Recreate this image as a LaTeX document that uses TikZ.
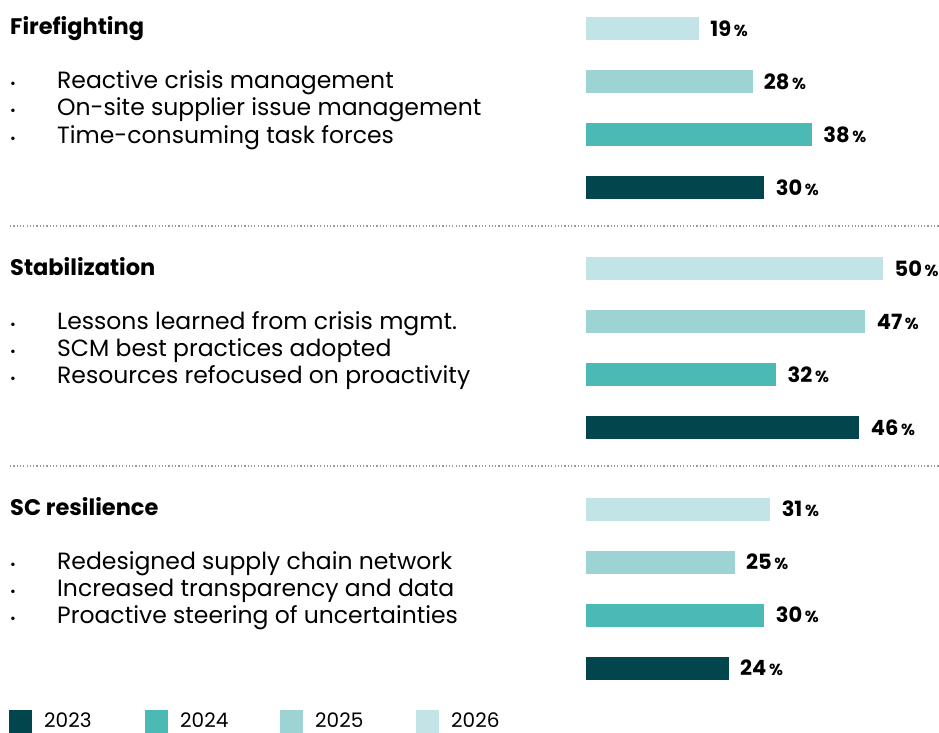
\documentclass[tikz,border=0pt]{standalone}
\usepackage{fontspec}
\setmainfont{Poppins}
\usetikzlibrary{positioning}

\definecolor{c2023}{HTML}{03454D}
\definecolor{c2024}{HTML}{4BBAB5}
\definecolor{c2025}{HTML}{9DD4D3}
\definecolor{c2026}{HTML}{C3E4E6}
\definecolor{dotgray}{HTML}{9A9A9A}

\begin{document}
\begin{tikzpicture}[x=1pt,y=-1pt,
                    bar/.style={inner sep=0pt,minimum height=23pt,anchor=west},
                    value/.style={font=\fontsize{21}{21}\selectfont\bfseries,inner sep=0pt},
                    title/.style={font=\fontsize{22.5}{22.5}\selectfont\bfseries,inner sep=0pt,anchor=base west},
                    item/.style={font=\fontsize{23.5}{27}\selectfont,inner sep=0pt,anchor=base west},
                    dot/.style={font=\fontsize{14}{14}\selectfont,inner sep=0pt,anchor=base west},
                    legend box/.style={inner sep=0pt,minimum size=23pt,anchor=north west},
                    sep line/.style={dotgray,line width=1.2pt,dash pattern=on 1.2pt off 2.1pt}]

  \useasboundingbox (0,0) rectangle (939,733);

  % one block per phase: title, bullets, four bars
  \foreach \g/\ttl/\va/\vb/\vc/\vd/\ia/\ib/\ic in {
      1/Firefighting/19/28/38/30/{Reactive crisis management}/{On-site supplier issue management}/{Time-consuming task forces},
      2/Stabilization/50/47/32/46/{Lessons learned from crisis mgmt.}/{SCM best practices adopted}/{Resources refocused on proactivity},
      3/SC resilience/31/25/30/24/{Redesigned supply chain network}/{Increased transparency and data}/{Proactive steering of uncertainties}} {
    \pgfmathsetmacro\gy{240.3*(\g-1)}

    \node[title] (title\g) at (10,\gy+35) {\ttl};

    \foreach \j/\txt in {0/\ia,1/\ib,2/\ic} {
      \node[dot]  (dot\g-\j)  at (10,\gy+89+27*\j) {•};
      \node[item] (item\g-\j) at (57,\gy+89+27*\j) {\txt};
    }

    \foreach \k/\yr/\val in {0/2026/\va,1/2025/\vb,2/2024/\vc,3/2023/\vd} {
      \node[bar,fill=c\yr,minimum width=\val*5.94pt] (bar\g-\yr) at (586,\gy+28.5+53*\k) {};
      \node[value,right=11pt of bar\g-\yr] (val\g-\yr) {\val{\fontsize{16}{16}\selectfont\,\%}};
    }
  }

  % dotted separators
  \coordinate (sepL1) at (10,226);
  \coordinate (sepR1) at (939,226);
  \coordinate (sepL2) at (10,466);
  \coordinate (sepR2) at (939,466);
  \draw[sep line] (sepL1) -- (sepR1);
  \draw[sep line] (sepL2) -- (sepR2);

  % legend
  \foreach \yr/\lx in {2023/9,2024/145,2025/280,2026/416} {
    \node[legend box,fill=c\yr] (key\yr) at (\lx,710) {};
    \node[item,font=\fontsize{20}{20}\selectfont] (keytxt\yr) at (\lx+35,727) {\yr};
  }
\end{tikzpicture}
\end{document}
